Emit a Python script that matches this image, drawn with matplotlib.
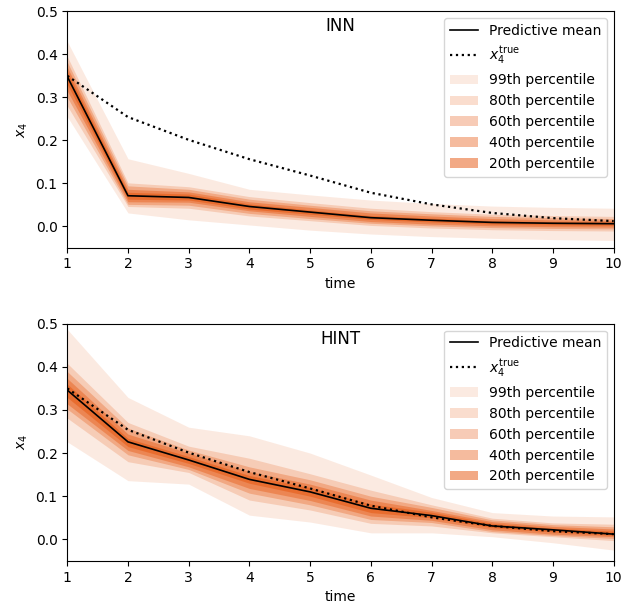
import numpy as np
import matplotlib
matplotlib.use("Agg")
import matplotlib.pyplot as plt

COLOR = "#e6550d"

time = [1, 2, 3, 4, 5, 6, 7, 8, 9, 10]
x4_true = [0.350, 0.254, 0.201, 0.156, 0.118, 0.078, 0.051, 0.031, 0.019, 0.012]

band_labels = ["99th percentile", "80th percentile", "60th percentile",
               "40th percentile", "20th percentile"]
band_alphas = [0.12, 0.2, 0.3, 0.4, 0.5]

# INN
inn_mean = [0.348, 0.071, 0.067, 0.046, 0.033, 0.020, 0.014, 0.009, 0.007, 0.006]
inn_lo_99 = [0.255, 0.031, 0.015, 0.003, -0.009, -0.018, -0.024, -0.028, -0.031, -0.033]
inn_hi_99 = [0.430, 0.157, 0.123, 0.086, 0.073, 0.061, 0.053, 0.047, 0.044, 0.042]
inn_lo_80 = [0.280, 0.046, 0.042, 0.024, 0.013, 0.002, -0.004, -0.008, -0.010, -0.011]
inn_hi_80 = [0.395, 0.101, 0.092, 0.069, 0.055, 0.042, 0.034, 0.028, 0.025, 0.023]
inn_lo_60 = [0.300, 0.051, 0.049, 0.030, 0.018, 0.007, 0.001, -0.003, -0.005, -0.006]
inn_hi_60 = [0.382, 0.094, 0.086, 0.063, 0.049, 0.036, 0.029, 0.023, 0.020, 0.018]
inn_lo_40 = [0.315, 0.057, 0.056, 0.036, 0.023, 0.011, 0.005, 0.001, -0.001, -0.002]
inn_hi_40 = [0.370, 0.086, 0.080, 0.057, 0.044, 0.031, 0.024, 0.018, 0.015, 0.014]
inn_lo_20 = [0.330, 0.063, 0.061, 0.040, 0.028, 0.016, 0.010, 0.005, 0.003, 0.002]
inn_hi_20 = [0.360, 0.079, 0.075, 0.052, 0.038, 0.025, 0.019, 0.013, 0.011, 0.010]

# HINT
hint_mean = [0.346, 0.226, 0.184, 0.139, 0.110, 0.072, 0.055, 0.031, 0.022, 0.012]
hint_lo_99 = [0.226, 0.136, 0.128, 0.056, 0.040, 0.015, 0.015, 0.006, -0.008, -0.025]
hint_hi_99 = [0.487, 0.329, 0.260, 0.240, 0.200, 0.149, 0.097, 0.062, 0.054, 0.052]
hint_lo_80 = [0.281, 0.180, 0.155, 0.091, 0.068, 0.037, 0.031, 0.015, 0.006, -0.003]
hint_hi_80 = [0.408, 0.271, 0.216, 0.188, 0.152, 0.114, 0.080, 0.049, 0.038, 0.035]
hint_lo_60 = [0.302, 0.196, 0.162, 0.107, 0.080, 0.046, 0.039, 0.018, 0.009, 0.002]
hint_hi_60 = [0.389, 0.258, 0.207, 0.168, 0.138, 0.100, 0.074, 0.045, 0.034, 0.029]
hint_lo_40 = [0.314, 0.206, 0.168, 0.118, 0.090, 0.054, 0.044, 0.022, 0.012, 0.006]
hint_hi_40 = [0.373, 0.244, 0.200, 0.157, 0.128, 0.091, 0.067, 0.041, 0.030, 0.024]
hint_lo_20 = [0.329, 0.215, 0.176, 0.130, 0.100, 0.062, 0.050, 0.027, 0.017, 0.009]
hint_hi_20 = [0.360, 0.234, 0.192, 0.148, 0.120, 0.082, 0.063, 0.037, 0.026, 0.019]


def plot_panel(ax, name, mean, bands):
    ax.plot(time, mean, color="k", lw=1.2, label="Predictive mean")
    ax.plot(time, x4_true, "k:", lw=1.6, label=r"$x_4^{\mathrm{true}}$")
    for (lo, hi), lab, a in zip(bands, band_labels, band_alphas):
        ax.fill_between(time, lo, hi, color=COLOR, alpha=a, lw=0, label=lab)
    ax.set_xlim(1, 10)
    ax.set_ylim(-0.05, 0.5)
    ax.set_xticks(time)
    ax.set_yticks([0.0, 0.1, 0.2, 0.3, 0.4, 0.5])
    ax.set_xlabel("time")
    ax.set_ylabel(r"$x_4$")
    ax.text(0.5, 0.975, name, transform=ax.transAxes, ha="center", va="top", fontsize=12)
    ax.legend(loc="upper right")


fig = plt.figure(figsize=(6.39, 6.07), dpi=100)
ax1 = fig.add_axes([0.1053, 0.5918, 0.855, 0.3896])
ax2 = fig.add_axes([0.1053, 0.0760, 0.855, 0.3907])

plot_panel(ax1, "INN", inn_mean,
           [(inn_lo_99, inn_hi_99), (inn_lo_80, inn_hi_80), (inn_lo_60, inn_hi_60),
            (inn_lo_40, inn_hi_40), (inn_lo_20, inn_hi_20)])
plot_panel(ax2, "HINT", hint_mean,
           [(hint_lo_99, hint_hi_99), (hint_lo_80, hint_hi_80), (hint_lo_60, hint_hi_60),
            (hint_lo_40, hint_hi_40), (hint_lo_20, hint_hi_20)])

plt.savefig("out.png", dpi=100)
